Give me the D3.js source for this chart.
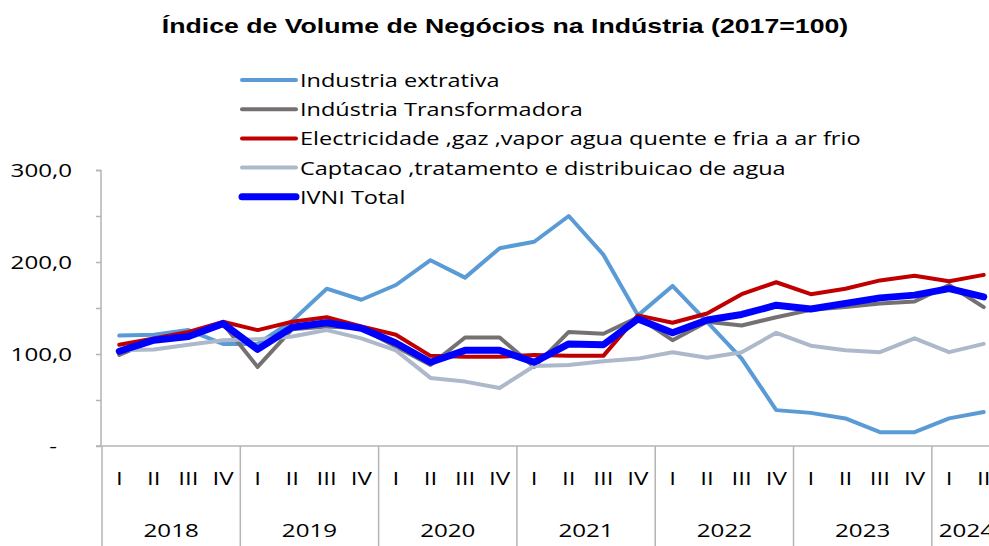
<!DOCTYPE html>
<html>
<head>
<meta charset="utf-8">
<script src="https://cdn.jsdelivr.net/npm/d3@7"></script>
<style>
  body { margin: 0; background: #fff; }
  svg { display: block; }
  .title { font-family: "Liberation Sans", Arial, sans-serif; font-weight: bold; font-size: 21px; fill: #000; }
  .lbl { font-family: "Open Sans", sans-serif; font-size: 19px; fill: #000; }
  .leg { font-family: "Open Sans", sans-serif; font-size: 18.5px; fill: #000; }
</style>
</head>
<body>
<svg id="chart" width="989" height="546"></svg>
<script>
const years = ["2018", "2019", "2020", "2021", "2022", "2023", "2024"];
const quarters = ["I", "II", "III", "IV", "I", "II", "III", "IV", "I", "II", "III", "IV", "I", "II", "III", "IV",
  "I", "II", "III", "IV", "I", "II", "III", "IV", "I", "II"];
const yTicks = [0, 50, 100, 150, 200, 250, 300];

const seriesNames = [
  "Industria extrativa",
  "Indústria Transformadora",
  "Electricidade ,gaz ,vapor agua quente e fria a ar frio",
  "Captacao ,tratamento e distribuicao de agua",
  "IVNI Total"
];
const extrativa = [120, 121, 126, 111, 111, 136, 171, 159, 175, 202, 183, 215, 222, 250, 208, 142,
  174, 135, 95, 39, 36, 30, 15, 15, 30, 37];
const transformadora = [99, 115, 118, 133, 86, 127, 130, 128, 108, 88, 118, 118, 86, 124, 122, 140,
  115, 135, 131, 140, 148, 151, 155, 157, 175, 151];
const electricidade = [110, 117, 124, 135, 126, 135, 140, 130, 121, 98, 97, 97, 99, 98, 98, 142,
  134, 144, 165, 178, 165, 171, 180, 185, 179, 186];
const captacao = [104, 105, 110, 115, 116, 119, 126, 117, 104, 74, 70, 63, 87, 88, 92, 95,
  102, 96, 102, 123, 109, 104, 102, 117, 102, 111];
const total = [103, 115, 119, 133, 105, 129, 134, 128, 112, 91, 104, 104, 91, 111, 110, 138,
  123, 137, 143, 153, 149, 155, 161, 164, 171, 162];

const colors = ["#5B9BD5", "#767171", "#C00000", "#ADB9CA", "#0000FF"];
const widths = [4, 4, 4, 4, 7];
const allSeries = [extrativa, transformadora, electricidade, captacao, total];

const svg = d3.select("#chart");
const axisColor = "#B4B4B4";
const widen = 1.27; // the original text is drawn wide

function stretch(sel) {
  sel.each(function () {
    const w = this.getComputedTextLength();
    if (w > 0) d3.select(this).attr("textLength", w * widen).attr("lengthAdjust", "spacingAndGlyphs");
  });
}

svg.append("text")
  .attr("class", "title")
  .attr("x", 505)
  .attr("y", 33)
  .attr("text-anchor", "middle")
  .text("Índice de Volume de Negócios na Indústria (2017=100)")
  .call(stretch);

const x = d3.scaleBand()
  .domain(d3.range(quarters.length))
  .range([102, 1001]);

const y = d3.scaleLinear()
  .domain([0, 300])
  .range([446, 170]);

// y axis
const yAxis = svg.append("g")
  .attr("transform", "translate(101,0)")
  .call(d3.axisLeft(y).tickValues(yTicks).tickSize(5).tickPadding(24)
    .tickFormat(d => d === 0 ? "-" : (d % 100 === 0 ? d3.format(".1f")(d).replace(".", ",") : "")));
yAxis.select(".domain").attr("stroke", axisColor).attr("stroke-width", 1.5);
yAxis.selectAll(".tick line").attr("stroke", axisColor).attr("stroke-width", 1.5);
yAxis.selectAll(".tick text")
  .attr("class", "lbl")
  .attr("font-family", null).attr("font-size", null)
  .attr("dx", d => d === 0 ? -15 : 0)
  .call(stretch);
yAxis.select(".domain").attr("d", "M-5,170.5H0V446");

// x axis line
svg.append("line")
  .attr("x1", 96).attr("x2", 989)
  .attr("y1", y(0)).attr("y2", y(0))
  .attr("stroke", axisColor).attr("stroke-width", 1.5);

// year separators
svg.append("g").selectAll("line")
  .data(d3.range(0, quarters.length + 1, 4).concat([quarters.length]))
  .join("line")
  .attr("x1", i => i < quarters.length ? x(i) : x.range()[1])
  .attr("x2", i => i < quarters.length ? x(i) : x.range()[1])
  .attr("y1", y(0)).attr("y2", 546)
  .attr("stroke", axisColor).attr("stroke-width", 1.5);

// quarter labels
svg.append("g").selectAll("text")
  .data(quarters)
  .join("text")
  .attr("class", "lbl")
  .attr("x", (d, i) => x(i) + x.bandwidth() / 2)
  .attr("y", 485)
  .attr("text-anchor", "middle")
  .text(d => d)
  .call(stretch);

// year labels, centred on the quarters each year has
svg.append("g").selectAll("text")
  .data(years)
  .join("text")
  .attr("class", "lbl")
  .attr("x", (d, i) => {
    const n = Math.min(4, quarters.length - i * 4);
    return x(i * 4) + x.bandwidth() * n / 2;
  })
  .attr("y", 537)
  .attr("text-anchor", "middle")
  .text(d => d)
  .call(stretch);

// lines
const line = d3.line()
  .x((d, i) => x(i) + x.bandwidth() / 2)
  .y(d => y(d));

svg.append("g").selectAll("path")
  .data(allSeries)
  .join("path")
  .attr("d", line)
  .attr("fill", "none")
  .attr("stroke", (d, i) => colors[i])
  .attr("stroke-width", (d, i) => widths[i])
  .attr("stroke-linejoin", "round")
  .attr("stroke-linecap", "round");

// legend
const legend = svg.append("g").selectAll("g")
  .data(seriesNames)
  .join("g")
  .attr("transform", (d, i) => `translate(240,${80 + i * 29.2})`);
legend.append("line")
  .attr("x1", 2).attr("x2", 56)
  .attr("stroke", (d, i) => colors[i])
  .attr("stroke-width", (d, i) => widths[i])
  .attr("stroke-linecap", "round");
legend.append("text")
  .attr("class", "leg")
  .attr("x", 60)
  .attr("y", 7)
  .text(d => d)
  .call(stretch);
</script>
</body>
</html>
